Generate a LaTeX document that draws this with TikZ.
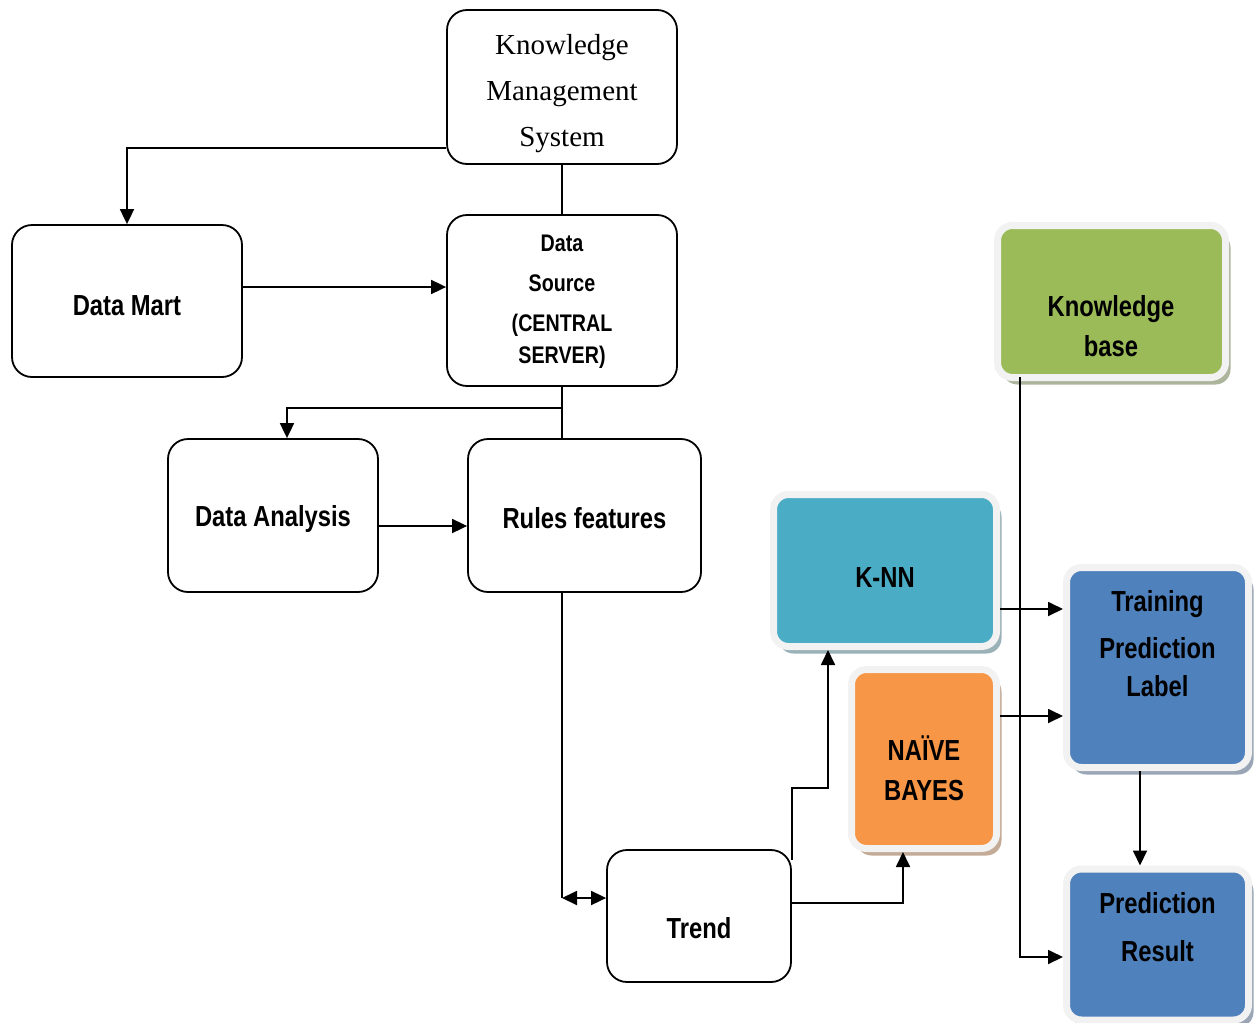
\documentclass[tikz,border=0pt]{standalone}
\usepackage{fontspec}
\setmainfont{Liberation Serif}
\newfontfamily\narrowsans[FakeStretch=0.82]{Liberation Sans}
\usetikzlibrary{arrows.meta,shadows}
\definecolor{kbgreen}{HTML}{9BBB59}
\definecolor{knnteal}{HTML}{4BACC6}
\definecolor{nborange}{HTML}{F79646}
\definecolor{tplblue}{HTML}{4F81BD}
\definecolor{framegray}{HTML}{F2F2F2}
\begin{document}
\begin{tikzpicture}[x=1pt,y=-1pt,
  plainbox/.style={draw=black, line width=1.8pt, rounded corners=20pt, fill=white},
  colbox/.style={fill=#1, draw=framegray, line width=7pt, rounded corners=15pt,
    drop shadow={shadow xshift=5pt, shadow yshift=-7pt, fill=#1!35!gray!70, opacity=1}},
  conn/.style={line width=1.8pt},
  tip/.style={},
  arr/.style={conn, -{Triangle[length=15pt,width=14pt]}},
  txtsans/.style={font=\narrowsans\bfseries\fontsize{29}{40}\selectfont, align=center, inner sep=0pt},
  txtsmall/.style={font=\narrowsans\bfseries\fontsize{24}{40}\selectfont, align=center, inner sep=0pt},
  txtserif/.style={font=\fontsize{29}{46}\selectfont, align=center, inner sep=0pt}
]
\useasboundingbox (0,0) rectangle (1254,1023);

% plain boxes
\node[plainbox, minimum width=230pt, minimum height=154pt] (kms) at (562,87) {};
\node[plainbox, minimum width=230pt, minimum height=171pt] (ds) at (562,300.5) {};
\node[plainbox, minimum width=230pt, minimum height=152pt] (dm) at (127,301) {};
\node[plainbox, minimum width=210pt, minimum height=153pt] (da) at (273,515.5) {};
\node[plainbox, minimum width=233pt, minimum height=153pt] (rf) at (584.5,515.5) {};
\node[plainbox, minimum width=184pt, minimum height=132pt] (trend) at (699,916) {};

% coloured boxes
\node[colbox=kbgreen, minimum width=228pt, minimum height=152pt] (kb) at (1111.5,301.5) {};
\node[colbox=knnteal, minimum width=223pt, minimum height=152pt] (knn) at (885,570.5) {};
\node[colbox=nborange, minimum width=145pt, minimum height=179pt] (nb) at (924,759) {};
\node[colbox=tplblue, minimum width=182pt, minimum height=200pt] (tpl) at (1157.5,667.5) {};
\node[colbox=tplblue, minimum width=182pt, minimum height=151pt] (pr) at (1157.5,944.5) {};

% texts
\node[txtserif] (kmst) at (562,94) {Knowledge\\Management\\System};
\node[txtsmall] (dst) at (562,302) {Data\\Source\\(CENTRAL\\[-8pt]SERVER)};
\node[txtsans] (dmt) at (127,306) {Data Mart};
\node[txtsans] (dat) at (273,519) {Data Analysis};
\node[txtsans] (rft) at (584.5,518) {Rules features};
\node[txtsans] (trendt) at (699,928) {Trend};
\node[txtsans] (kbt) at (1111,326) {Knowledge\\base};
\node[txtsans] (knnt) at (885,578) {K-NN};
\node[txtsans] (nbt) at (924,768) {NAÏVE\\BAYES};
\node[txtsans, font=\narrowsans\bfseries\fontsize{29}{38}\selectfont] (tplt) at (1157.5,644) {Training\\[9pt]Prediction\\Label};
\node[txtsans, font=\narrowsans\bfseries\fontsize{29}{48}\selectfont] (prt) at (1157.5,927) {Prediction\\Result};

% helper coordinates
\coordinate (y148) at (0,148);
\coordinate (y287) at (0,287);
\coordinate (y408) at (0,408);
\coordinate (y526) at (0,526);
\coordinate (y898) at (0,898);
\coordinate (y860) at (0,860);
\coordinate (y788) at (0,788);
\coordinate (y903) at (0,903);
\coordinate (y609) at (0,609);
\coordinate (y716) at (0,716);
\coordinate (y957) at (0,957);
\coordinate (y377) at (0,377);
\coordinate (x287) at (287,0);
\coordinate (x828) at (828,0);
\coordinate (x903) at (903,0);
\coordinate (x1140) at (1140,0);
\coordinate (x1020) at (1020,0);

% connectors
\draw[arr] (kms.west |- y148) -- (dm.north |- y148) -- (dm.north);
\draw[conn] (kms.south) -- (ds.north);
\draw[arr] (dm.east |- y287) -- (ds.west |- y287);
\draw[conn] (ds.south) -- (ds.south |- rf.north);
\draw[arr] (ds.south |- y408) -- (x287 |- y408) -- (x287 |- da.north);
\draw[arr] (da.east |- y526) -- (rf.west |- y526);
\draw[conn] (ds.south |- rf.south) -- (ds.south |- y898);
\draw[conn, {Triangle[length=15pt,width=14pt]}-{Triangle[length=15pt,width=14pt]}] (ds.south |- y898) -- (trend.west |- y898);
\draw[arr] (trend.east |- y860) -- (trend.east |- y788) -- (x828 |- y788) -- (x828 |- knn.south);
\draw[arr] (trend.east |- y903) -- (x903 |- y903) -- (x903 |- nb.south);
\draw[arr] (knn.east |- y609) -- (tpl.west |- y609);
\draw[arr] (nb.east |- y716) -- (tpl.west |- y716);
\draw[arr] (x1140 |- tpl.south) -- (x1140 |- pr.north);
\draw[arr] (x1020 |- y377) -- (x1020 |- y957) -- (pr.west |- y957);
\end{tikzpicture}
\end{document}
